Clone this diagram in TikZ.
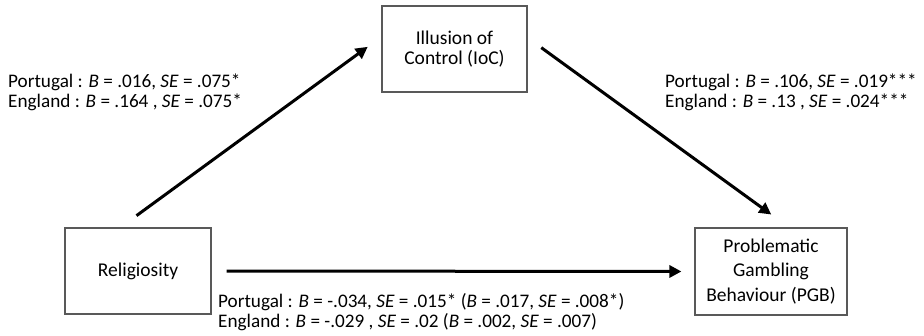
\documentclass[tikz,border=0pt]{standalone}
\usepackage{fontspec}
\setmainfont{Carlito}
\usetikzlibrary{arrows.meta,calc}
\begin{document}
\begin{tikzpicture}[x=1pt,y=-1pt,
  box/.style={draw=black!65,line width=1.1pt,align=center,inner sep=0pt,font=\fontsize{19.5}{20}\selectfont},
  lbl/.style={align=left,inner sep=0pt,anchor=west,font=\fontsize{19.2}{20}\selectfont},
  arr/.style={line width=3pt,-{Triangle[length=12pt,width=12pt]}}]
\useasboundingbox (0,0) rectangle (924,336);
\node[box,minimum width=145pt,minimum height=86pt] (ioc) at (454.5,49) {Illusion of\\Control (IoC)};
\node[box,minimum width=146pt,minimum height=86pt] (rel) at (138,271) {Religiosity};
\node[box,minimum width=152pt,minimum height=87pt,font=\fontsize{19.5}{24.5}\selectfont] (pgb) at (771,271.5) {Problematic\\Gambling\\Behaviour (PGB)};
\node[lbl] (la) at (8,92) {Portugal : \textit{B} = .016, \textit{SE} = .075*\\England : \textit{B} = .164 , \textit{SE} = .075*};
\node[lbl] (lb) at (665,92) {Portugal : \textit{B} = .106, \textit{SE} = .019***\\England : \textit{B} = .13 , \textit{SE} = .024***};
\node[lbl] (lc) at (218,312) {Portugal : \textit{B} = -.034, \textit{SE} = .015* (\textit{B} = .017, \textit{SE} = .008*)\\England : \textit{B} = -.029 , \textit{SE} = .02 (\textit{B} = .002, \textit{SE} = .007)};
\draw[arr,shorten <=20pt,shorten >=17pt] ($(rel.north west)!0.38!(rel.north east)$) -- ($(ioc.north west)!0.36!(ioc.south west)$);
\draw[arr,shorten <=17pt,shorten >=22pt] ($(ioc.north east)!0.37!(ioc.south east)$) -- ($(pgb.north west)!0.618!(pgb.north east)$);
\draw[arr,shorten <=15pt,shorten >=13pt] (rel.east) -- (pgb.west);
\end{tikzpicture}
\end{document}
